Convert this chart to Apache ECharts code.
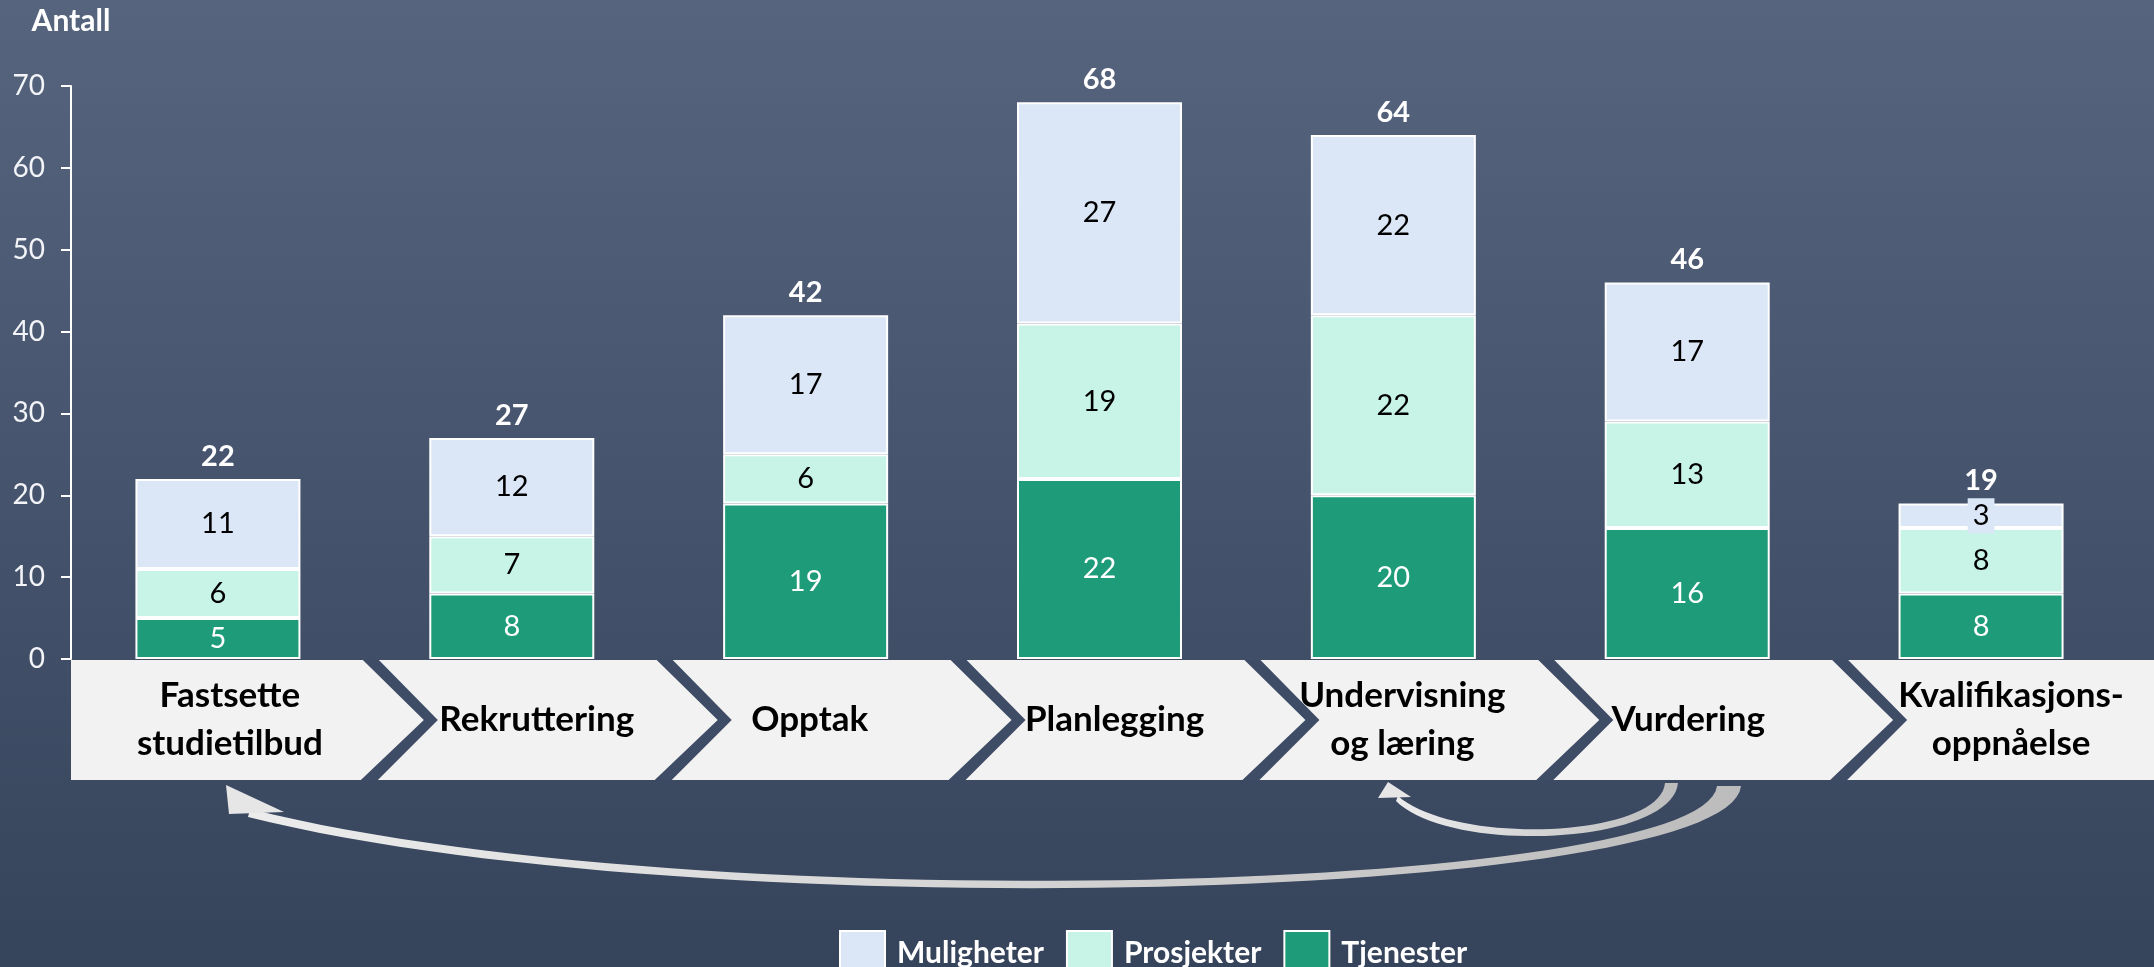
<!DOCTYPE html>
<html>
<head>
<meta charset="utf-8">
<script src="https://cdn.jsdelivr.net/npm/echarts@6/dist/echarts.min.js"></script>
<style>
html, body { margin: 0; padding: 0; }
#main { width: 2154px; height: 967px; }
</style>
</head>
<body>
<div id="main"></div>
<script>
var categories = ['Fastsette\nstudietilbud', 'Rekruttering', 'Opptak', 'Planlegging', 'Undervisning\nog læring', 'Vurdering', 'Kvalifikasjons-\noppnåelse'];
var tjenester = [5, 8, 19, 22, 20, 16, 8];
var prosjekter = [6, 7, 6, 19, 22, 13, 8];
var muligheter = [11, 12, 17, 27, 22, 17, 3];
var totals = categories.map(function (c, i) {
    return tjenester[i] + prosjekter[i] + muligheter[i];
});
var sumBase = categories.map(function () { return 0; });
// nudges of the step names to the right inside their chevron (px)
var labelShift = [12, 25, 4, 15, 9, 1, 30];

var font = 'Lato';
var myChart = echarts.init(document.getElementById('main'));

var catLabel = {
    color: '#000000',
    fontSize: 35,
    fontWeight: 'bold',
    fontFamily: font,
    lineHeight: 48,
    verticalAlign: 'middle'
};

var option = {
    backgroundColor: {
        type: 'linear', x: 0, y: 0, x2: 0, y2: 1,
        colorStops: [
            {offset: 0, color: '#56647e'},
            {offset: 1, color: '#35435b'}
        ]
    },
    textStyle: {fontFamily: font},
    animation: false,
    grid: {left: 71, right: 26, top: 86, bottom: 308},
    legend: {
        data: ['Muligheter', 'Prosjekter', 'Tjenester'],
        left: 834,
        top: 925,
        itemWidth: 45,
        itemHeight: 45,
        itemGap: 22,
        icon: 'rect',
        textStyle: {
            color: '#ffffff',
            fontSize: 30,
            fontWeight: 'bold',
            fontFamily: font,
            padding: [0, 0, 0, 7]
        }
    },
    xAxis: {
        type: 'category',
        data: categories.map(function (c, i) {
            return {
                value: c,
                textStyle: echarts.util.extend({padding: [0, 0, 0, labelShift[i] * 2]}, catLabel)
            };
        }),
        axisLine: {show: false},
        axisTick: {show: false},
        axisLabel: echarts.util.extend({margin: 61, interval: 0}, catLabel)
    },
    yAxis: {
        type: 'value',
        min: 0,
        max: 70,
        interval: 10,
        name: 'Antall',
        nameLocation: 'end',
        nameGap: 65,
        nameTextStyle: {
            color: '#ffffff',
            fontSize: 30,
            fontWeight: 'bold',
            fontFamily: font,
            verticalAlign: 'middle'
        },
        splitLine: {show: false},
        axisLine: {show: true, lineStyle: {color: '#ffffff', width: 2}},
        axisTick: {show: true, length: 10, lineStyle: {color: '#ffffff', width: 2}},
        axisLabel: {color: '#f2f4f8', fontSize: 28, fontFamily: font, margin: 26}
    },
    series: [
        {
            name: 'Tjenester',
            type: 'bar',
            stack: 'a',
            barWidth: 165,
            data: tjenester,
            itemStyle: {color: '#1e9b78', borderColor: '#ffffff', borderWidth: 2},
            label: {show: true, position: 'inside', color: '#ffffff', fontSize: 29, fontFamily: font}
        },
        {
            name: 'Prosjekter',
            type: 'bar',
            stack: 'a',
            data: prosjekter,
            itemStyle: {color: '#c7f4e6', borderColor: '#ffffff', borderWidth: 2},
            label: {show: true, position: 'inside', color: '#000000', fontSize: 29, fontFamily: font}
        },
        {
            name: 'Muligheter',
            type: 'bar',
            stack: 'a',
            data: muligheter,
            itemStyle: {color: '#dbe6f6', borderColor: '#ffffff', borderWidth: 2},
            label: {
                show: true, position: 'inside', color: '#000000', fontSize: 29, fontFamily: font,
                backgroundColor: '#dbe6f6', padding: [3, 5]
            }
        },
        {
            name: 'Sum',
            type: 'bar',
            stack: 'a',
            data: sumBase,
            itemStyle: {color: 'rgba(0,0,0,0)', borderWidth: 0},
            label: {
                show: true, position: 'top', distance: 8,
                color: '#ffffff', fontSize: 29, fontWeight: 'bold', fontFamily: font,
                formatter: function (p) { return totals[p.dataIndex]; }
            }
        }
    ]
};

myChart.setOption(option);

// process band with chevrons under the axis
var cx = categories.map(function (c, i) {
    return myChart.convertToPixel({xAxisIndex: 0}, i);
});
var half = (cx[1] - cx[0]) / 2;
var y0 = myChart.convertToPixel({yAxisIndex: 0}, 0);
var bandTop = y0 + 1, bandBot = y0 + 121, bandMid = (bandTop + bandBot) / 2;

var graphics = [{
    type: 'rect',
    shape: {x: cx[0] - half, y: bandTop, width: myChart.getWidth() - (cx[0] - half), height: bandBot - bandTop},
    style: {fill: '#f2f2f2'},
    z: 0
}];
for (var i = 1; i < cx.length; i++) {
    var b = cx[i] - half;
    graphics.push({
        type: 'polygon',
        shape: {points: [
            [b - 2, bandTop], [b + 14, bandTop], [b + 73, bandMid],
            [b + 13, bandBot], [b - 4, bandBot], [b + 59, bandMid]
        ]},
        style: {fill: '#3f4c65'},
        z: 1
    });
}

function bez(p0, p1, p2, p3, n) {
    var pts = [];
    for (var k = 0; k <= n; k++) {
        var t = k / n, u = 1 - t;
        pts.push([
            u * u * u * p0[0] + 3 * u * u * t * p1[0] + 3 * u * t * t * p2[0] + t * t * t * p3[0],
            u * u * u * p0[1] + 3 * u * u * t * p1[1] + 3 * u * t * t * p2[1] + t * t * t * p3[1]
        ]);
    }
    return pts;
}

var arrowFill = {
    type: 'linear', x: 0, y: 0, x2: 1, y2: 0,
    colorStops: [{offset: 0, color: '#ececec'}, {offset: 1, color: '#bcbcbc'}]
};
// return arrows from Vurdering
var longArrow = bez([1741, 786], [1730, 900], [700, 930], [248, 817], 60)
    .concat(bez([250, 809], [700, 922], [1705, 892], [1717, 786], 60));
var shortArrow = bez([1678, 783], [1672, 845], [1450, 855], [1396, 801], 40)
    .concat(bez([1398, 796], [1455, 846], [1660, 838], [1665, 783], 40));

graphics.push({type: 'polygon', shape: {points: longArrow}, style: {fill: arrowFill}, z: 1});
graphics.push({type: 'polygon', shape: {points: [[226, 785], [229, 814], [284, 812]]}, style: {fill: '#e6e6e6'}, z: 1});
graphics.push({type: 'polygon', shape: {points: shortArrow}, style: {fill: arrowFill}, z: 1});
graphics.push({type: 'polygon', shape: {points: [[1388, 782], [1378, 798], [1411, 797]]}, style: {fill: '#e6e6e6'}, z: 1});

myChart.setOption({graphic: graphics});
</script>
</body>
</html>
